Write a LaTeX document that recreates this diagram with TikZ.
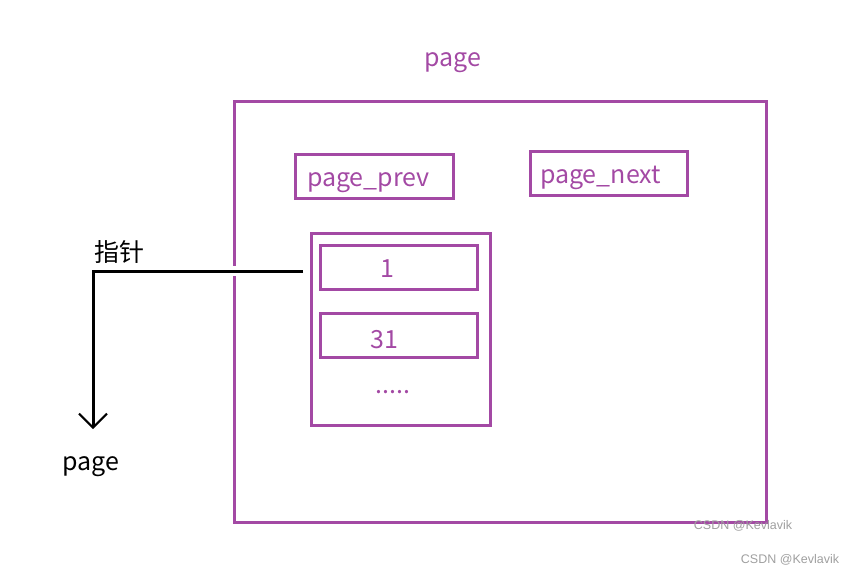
\documentclass[tikz,border=0pt]{standalone}
\usepackage{fontspec}
\setmainfont{Noto Sans CJK SC}
\newfontfamily\markfont{Liberation Sans}
\usetikzlibrary{arrows.meta,positioning}

\definecolor{paintpurple}{RGB}{163,73,164}
\tikzset{
  frame/.style={draw=paintpurple, line width=3pt},
  box/.style={draw=paintpurple, line width=3pt, rectangle, inner sep=0pt},
  ptxt/.style={text=paintpurple, font=\fontsize{25}{28}\selectfont, inner sep=0pt},
  btxt/.style={text=black, font=\fontsize{25}{28}\selectfont, inner sep=0pt},
  ptrline/.style={black, line width=3pt,
    preaction={draw=white, line width=10pt, -{}},
    -{Straight Barb[length=14pt, width=28pt, line width=2pt]}},
  wmark/.style={text=gray!75, font=\markfont\fontsize{12.5}{14}\selectfont, inner sep=0pt}
}

\begin{document}
\begin{tikzpicture}[x=1pt, y=-1pt]
  \useasboundingbox (0,0) rectangle (857,574);

  % outer page frame
  \draw[frame] (234,101) rectangle (766,522);
  \node[ptxt] (title) at (453,63) {page};

  % prev / next pointers
  \node[box, minimum width=158, minimum height=44, anchor=north west,
        text width=135, align=left, inner xsep=10, text height=19pt, text depth=0pt,
        text=paintpurple, font=\fontsize{25}{28}\selectfont] (prev) at (294,153) {page\_prev};
  \node[box, minimum width=157, minimum height=44, anchor=north west,
        text width=138, align=left, inner xsep=8, text height=19pt, text depth=0pt,
        text=paintpurple, font=\fontsize{25}{28}\selectfont] (next) at (529,150) {page\_next};

  % inner block with slots
  \node[box, minimum width=179, minimum height=192, anchor=north west] (block) at (310,232) {};
  \node[box, minimum width=157, minimum height=44, anchor=north west] (slotA) at (319,244) {};
  \node[box, minimum width=157, minimum height=44, anchor=north west] (slotB) at (319,312) {};
  \node[ptxt] (numA) at ([xshift=-12, yshift=-1]slotA.center) {1};
  \node[ptxt] (numB) at ([xshift=-15, yshift=-4]slotB.center) {31};
  \node[ptxt] (dots) at (393,392) {.....};

  % pointer out of the block
  \coordinate (ptrstart) at (303,271);
  \coordinate (ptrend) at (93,429);
  \node[btxt, anchor=south west] (ptrlbl) at (94,264) {指针};
  \node[btxt] (target) at (91,467) {page};
  \draw[ptrline] (ptrstart) -| (ptrend);

  % watermarks
  \node[wmark] (markA) at (743,526) {CSDN @Kevlavik};
  \node[wmark] (markB) at (790,560) {CSDN @Kevlavik};
\end{tikzpicture}
\end{document}
